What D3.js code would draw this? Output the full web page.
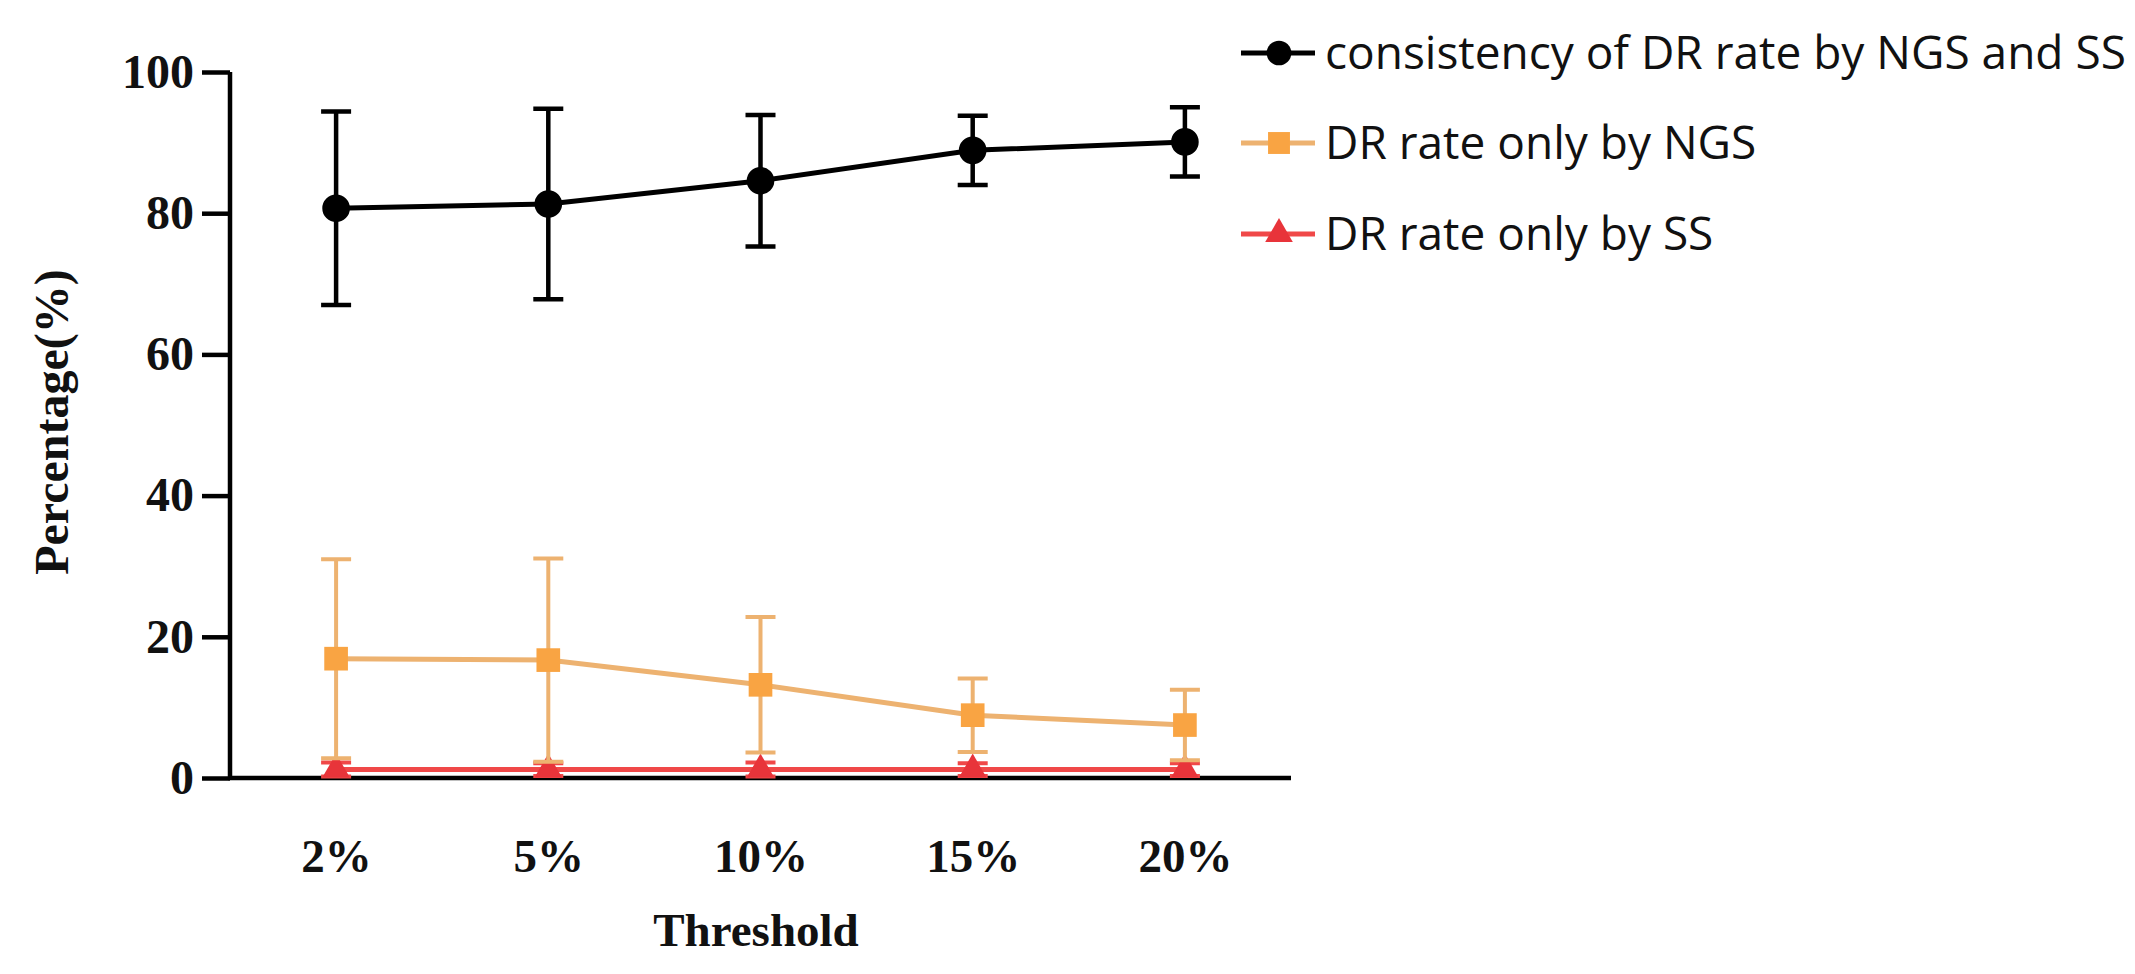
<!DOCTYPE html>
<html>
<head>
<meta charset="utf-8">
<script src="https://cdn.jsdelivr.net/npm/d3@7"></script>
<style>
  body { margin: 0; background: #fff; }
  .tick text { font-family: "Liberation Serif", "Times New Roman", serif; font-weight: bold; }
  .legendText { font-family: "Open Sans", "DejaVu Sans", sans-serif; font-size: 46px; fill: #111; }
</style>
</head>
<body>
<svg></svg>
<script>
var thresholds = ["2%", "5%", "10%", "15%", "20%"];
var yTicks = [0, 20, 40, 60, 80, 100];

var seriesNames = ["consistency of DR rate by NGS and SS", "DR rate only by NGS", "DR rate only by SS"];

// mean and error (SD)
var consistMean = [80.7, 81.3, 84.6, 88.9, 90.1];
var consistErr  = [13.7, 13.5, 9.3, 4.9, 4.9];
var ngsMean = [16.9, 16.7, 13.2, 8.9, 7.5];
var ngsErr  = [14.1, 14.4, 9.6, 5.2, 5.0];
var ssMean = [1.2, 1.2, 1.2, 1.2, 1.2];
var ssErr  = [1.0, 0.9, 1.0, 0.9, 0.9];

var w = 2135, h = 974;

var svg = d3.select("svg").attr("width", w).attr("height", h);

var xscale = d3.scalePoint().domain(thresholds).range([230, 1291]).padding(0.5);
var yscale = d3.scaleLinear().domain([0, 100]).range([778, 72]);

var series = [
  { name: seriesNames[0], mean: consistMean, err: consistErr, line: "#000", mark: "#000", shape: "circle" },
  { name: seriesNames[1], mean: ngsMean, err: ngsErr, line: "#EDB270", mark: "#F9A443", shape: "square" },
  { name: seriesNames[2], mean: ssMean, err: ssErr, line: "#F04848", mark: "#E8343A", shape: "triangle" }
];

function symbolFor(shape, size) {
  var t = shape === "circle" ? d3.symbolCircle : shape === "square" ? d3.symbolSquare : d3.symbolTriangle;
  return d3.symbol().type(t).size(size)();
}

// y axis
var yAxis = svg.append("g")
  .attr("transform", "translate(230,0)")
  .call(d3.axisLeft(yscale).tickValues(yTicks).tickSize(28).tickPadding(8));
yAxis.select(".domain").attr("stroke-width", 4.5).attr("d", "M0," + yscale(100) + "V" + yscale(0));
yAxis.selectAll(".tick line").attr("stroke-width", 4.5);
yAxis.selectAll(".tick text").attr("font-size", 48).attr("fill", "#111");

// x axis
var xAxis = svg.append("g")
  .attr("transform", "translate(0,778)")
  .call(d3.axisBottom(xscale).tickSize(0));
xAxis.select(".domain").attr("stroke-width", 4.5).attr("d", "M228,0H1291");
xAxis.selectAll(".tick text").attr("font-size", 47).attr("fill", "#111").attr("dy", 0).attr("y", 94);

// axis titles
svg.append("text")
  .attr("x", 756).attr("y", 946)
  .attr("text-anchor", "middle")
  .style("font-family", "Liberation Serif, serif").style("font-weight", "bold")
  .style("font-size", "47px").attr("fill", "#111")
  .text("Threshold");

svg.append("text")
  .attr("transform", "translate(68,422) rotate(-90)")
  .attr("text-anchor", "middle")
  .style("font-family", "Liberation Serif, serif").style("font-weight", "bold")
  .style("font-size", "48px").attr("fill", "#111")
  .text("Percentage(%)");

// series, drawn back to front: red, orange, black
var line = d3.line()
  .x(function(d, i) { return xscale(thresholds[i]); })
  .y(function(d) { return yscale(d); });

series.slice().reverse().forEach(function(s) {
  var g = svg.append("g");
  var pts = s.mean.map(function(m, i) { return { x: xscale(thresholds[i]), m: m, e: s.err[i] }; });

  // error bars
  g.selectAll(".eb").data(pts).enter().append("path")
    .attr("fill", "none").attr("stroke", s.line).attr("stroke-width", s.shape === "circle" ? 4.5 : 4)
    .attr("d", function(d) {
      var t = yscale(d.m + d.e), b = yscale(d.m - d.e);
      return "M" + d.x + "," + t + "V" + b +
             "M" + (d.x - 15) + "," + t + "H" + (d.x + 15) +
             "M" + (d.x - 15) + "," + b + "H" + (d.x + 15);
    });

  g.append("path").datum(s.mean)
    .attr("fill", "none").attr("stroke", s.line).attr("stroke-width", 5)
    .attr("d", line);

  g.selectAll(".mk").data(pts).enter().append("path")
    .attr("transform", function(d) { return "translate(" + d.x + "," + yscale(d.m) + ")"; })
    .attr("d", symbolFor(s.shape, s.shape === "circle" ? 600 : s.shape === "square" ? 560 : 330))
    .attr("fill", s.mark);
});

// legend
var legendY = [53, 143, 234];
var lg = svg.append("g").selectAll(".legend").data(series).enter().append("g")
  .attr("transform", function(d, i) { return "translate(1279," + legendY[i] + ")"; });

lg.append("line")
  .attr("x1", -38).attr("x2", 36).attr("y1", 0).attr("y2", 0)
  .attr("stroke", function(d) { return d.line; }).attr("stroke-width", 5);
lg.append("path")
  .attr("d", function(d) { return symbolFor(d.shape, d.shape === "triangle" ? 330 : 480); })
  .attr("fill", function(d) { return d.mark; });
lg.append("text")
  .attr("class", "legendText")
  .attr("x", 46).attr("dy", "0.35em")
  .text(function(d) { return d.name; });
</script>
</body>
</html>
